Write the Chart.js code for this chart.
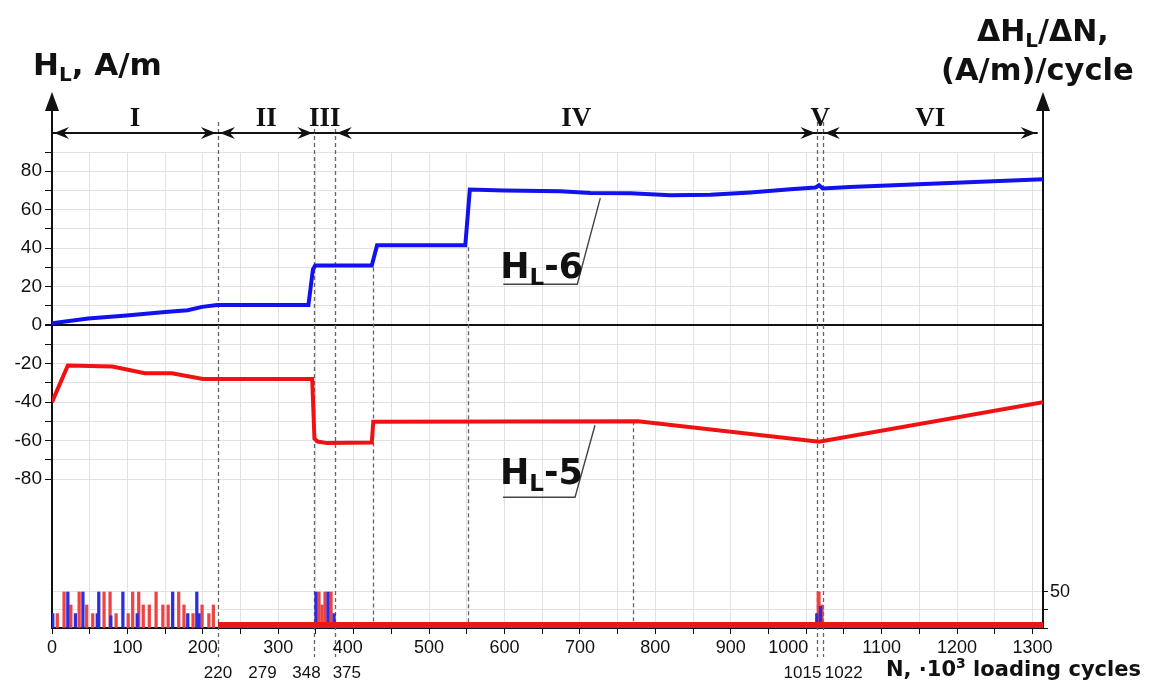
<!DOCTYPE html>
<html>
<head>
<meta charset="utf-8">
<script src="https://cdn.jsdelivr.net/npm/chart.js@4"></script>
<style>
  html, body { margin: 0; padding: 0; background: #fff; }
  #wrap { width: 1153px; height: 682px; }
</style>
</head>
<body>
<div id="wrap"><canvas id="hlChart" width="1153" height="682"></canvas></div>
<script>
// H_L-6 (upper sensor), A/m vs N (10^3 cycles)
const blueN = [0, 48, 99, 150, 180, 199, 219, 340, 346, 349, 424, 431, 548, 554, 600, 674, 714, 767, 820, 873, 926, 979, 1012, 1017, 1022, 1058, 1314];
const blueH = [1, 3.5, 5, 6.8, 7.8, 9.5, 10.5, 10.5, 29, 31, 31, 41.5, 41.5, 70.5, 70, 69.6, 68.7, 68.5, 67.5, 67.8, 69, 70.6, 71.5, 72.7, 71, 71.8, 75.8];

// H_L-5 (lower sensor)
const redN = [0, 21, 80, 123, 159, 200, 345, 348, 352, 365, 424, 426, 777, 1017, 1314];
const redH = [-40, -21, -21.5, -25, -25, -28, -28, -59, -60.5, -61.3, -61, -50.2, -50, -60.6, -40];

// dH/dN rate bars, (A/m)/cycle
const redBarN = [7, 16, 25, 36, 46, 54, 69, 77, 85, 101, 107, 115, 121, 129, 138, 147, 154, 168, 175, 187, 199, 208, 214, 354, 358, 362, 370, 1016, 1017, 1021];
const redBarV = [20, 50, 32, 50, 32, 20, 50, 50, 20, 20, 50, 50, 32, 32, 50, 32, 32, 50, 32, 20, 32, 20, 32, 50, 32, 50, 50, 50, 50, 32];
const blueBarN = [1, 21, 31, 41, 60, 62, 78, 94, 113, 160, 180, 192, 195, 350, 366, 374, 1014, 1019];
const blueBarV = [20, 50, 20, 50, 20, 50, 17, 50, 20, 50, 20, 50, 20, 50, 50, 20, 20, 30];
// low steady rate after stage I
const baseRateN = [220, 1314];
const baseRateV = [4, 4];

// stages and marked cycle counts
const stageNames = ['I', 'II', 'III', 'IV', 'V', 'VI'];
const stageBounds = [0, 220, 348, 375, 1015, 1022, 1307];
const boundaryN = [220, 348, 375, 1015, 1022];
const boundaryLabels = [220, 279, 348, 375, 1015, 1022];
const stepN = [426, 552, 771];
const stepFrom = [30, 40.5, -50];

const xTicks = [0, 50, 100, 150, 200, 250, 300, 350, 400, 450, 500, 550, 600, 650, 700, 750, 800, 850, 900, 950, 1000, 1050, 1100, 1150, 1200, 1250, 1300];
const xLabels = [0, 100, 200, 300, 400, 500, 600, 700, 800, 900, 1000, 1100, 1200, 1300];
const yTicks = [-80, -70, -60, -50, -40, -30, -20, -10, 0, 10, 20, 30, 40, 50, 60, 70, 80, 90];
const rateTicks = [0, 25, 50];

const pts = (xs, ys) => xs.map((n, i) => ({ x: n, y: ys[i] }));

function richText(ctx, parts, x, y, size) {
  let cx = x;
  ctx.textAlign = 'left';
  ctx.textBaseline = 'alphabetic';
  parts.forEach(([t, mode]) => {
    const s = mode ? Math.round(size * 0.66) : size;
    ctx.font = `bold ${s}px "DejaVu Sans"`;
    const dy = mode === 'sub' ? size * 0.2 : mode === 'sup' ? -size * 0.4 : 0;
    ctx.fillText(t, cx, y + dy);
    cx += ctx.measureText(t).width;
  });
}

function arrowHead(ctx, tipX, yy, dir) {
  ctx.beginPath();
  ctx.moveTo(tipX, yy);
  ctx.lineTo(tipX - dir * 15, yy - 6);
  ctx.lineTo(tipX - dir * 10, yy);
  ctx.lineTo(tipX - dir * 15, yy + 6);
  ctx.closePath();
  ctx.fill();
}

const markers = {
  id: 'markers',
  beforeDatasetsDraw(chart) {
    const { ctx, chartArea: a, scales: { x, y } } = chart;
    ctx.save();
    ctx.strokeStyle = '#666';
    ctx.lineWidth = 1.3;
    ctx.setLineDash([4, 3]);
    boundaryN.forEach(n => {
      const px = Math.round(x.getPixelForValue(n)) + 0.5;
      ctx.beginPath(); ctx.moveTo(px, 122); ctx.lineTo(px, 657); ctx.stroke();
    });
    stepN.forEach((n, i) => {
      const px = Math.round(x.getPixelForValue(n)) + 0.5;
      ctx.beginPath(); ctx.moveTo(px, y.getPixelForValue(stepFrom[i])); ctx.lineTo(px, a.bottom); ctx.stroke();
    });
    ctx.restore();
  },
  afterDraw(chart) {
    const { ctx, chartArea: a, scales: { x, y } } = chart;
    ctx.save();
    ctx.strokeStyle = '#111';
    ctx.fillStyle = '#111';

    // axis lines continued upward with arrowheads
    ctx.lineWidth = 2;
    [a.left, a.right].forEach(px => {
      ctx.beginPath(); ctx.moveTo(px, a.top); ctx.lineTo(px, 106); ctx.stroke();
      ctx.beginPath(); ctx.moveTo(px, 92); ctx.lineTo(px - 7, 111); ctx.lineTo(px + 7, 111); ctx.closePath(); ctx.fill();
    });

    // stage arrows
    const ay = 133;
    for (let i = 0; i < stageNames.length; i++) {
      const x0 = x.getPixelForValue(stageBounds[i]);
      const x1 = x.getPixelForValue(stageBounds[i + 1]);
      const wide = x1 - x0 > 40;
      ctx.lineWidth = 2;
      ctx.beginPath(); ctx.moveTo(x0, ay); ctx.lineTo(x1, ay); ctx.stroke();
      if (wide) { arrowHead(ctx, x0 + 2, ay, -1); arrowHead(ctx, x1 - 2, ay, 1); }
      ctx.font = 'bold 27px "Liberation Serif"';
      ctx.textAlign = 'center';
      ctx.textBaseline = 'alphabetic';
      ctx.fillText(stageNames[i], (x0 + x1) / 2, 126);
    }

    // cycle axis labels; 1000 moved left to clear the stage V lines
    ctx.font = '18px "Liberation Sans"';
    ctx.textAlign = 'center';
    xLabels.forEach(v => {
      const nudge = v === 1000 ? -18 : v === 400 ? -6 : 0;
      ctx.fillText(String(v), x.getPixelForValue(v) + nudge, 653);
    });

    // marked cycle counts under the axis
    ctx.font = '17px "Liberation Sans"';
    const shift = [0, 0, -8, 12, -15, 21];
    boundaryLabels.forEach((n, i) => {
      ctx.fillText(String(n), x.getPixelForValue(n) + shift[i], 678);
    });

    // axis titles
    richText(ctx, [['H', ''], ['L', 'sub'], [', A/m', '']], 33, 75, 31);
    richText(ctx, [['\u0394H', ''], ['L', 'sub'], ['/\u0394N,', '']], 977, 41, 30);
    richText(ctx, [['(A/m)/cycle', '']], 941, 80, 30.5);
    richText(ctx, [['N, \u00b710', ''], ['3', 'sup'], [' loading cycles', '']], 886, 676, 21);

    // curve tags with leader lines
    ctx.lineWidth = 1.4;
    ctx.strokeStyle = '#444';
    const tag = (n, v, name, dx, dy, len, tdy) => {
      const tx = x.getPixelForValue(n), ty = y.getPixelForValue(v);
      const ex = tx + dx, ey = ty + dy;
      ctx.beginPath(); ctx.moveTo(tx, ty); ctx.lineTo(ex, ey); ctx.lineTo(ex - len, ey); ctx.stroke();
      richText(ctx, [['H', ''], ['L', 'sub'], ['-' + name, '']], ex - len - 3, ey + tdy, 35);
    };
    tag(727, 66, '6', -23, 86, 74, -6);
    tag(720, -52, '5', -20, 72, 72, -13);
    ctx.restore();
  }
};

new Chart(document.getElementById('hlChart'), {
  type: 'bar',
  data: {
    datasets: [
      { type: 'line', label: 'H_L-6', data: pts(blueN, blueH), yAxisID: 'y', borderColor: '#1212ee', borderWidth: 4, pointRadius: 0, tension: 0, order: 0 },
      { type: 'line', label: 'H_L-5', data: pts(redN, redH), yAxisID: 'y', borderColor: '#f01212', borderWidth: 4, pointRadius: 0, tension: 0, order: 0 },
      { type: 'line', label: 'base rate', data: pts(baseRateN, baseRateV), yAxisID: 'y2', borderColor: '#e81818', borderWidth: 6, pointRadius: 0, order: 1 },
      { label: 'dH/dN (5)', data: pts(redBarN, redBarV), yAxisID: 'y2', backgroundColor: '#ec4444', barThickness: 2.6, grouped: false, order: 2 },
      { label: 'dH/dN (6)', data: pts(blueBarN, blueBarV), yAxisID: 'y2', backgroundColor: '#2d2de0', barThickness: 2.6, grouped: false, order: 1 }
    ]
  },
  options: {
    responsive: false,
    animation: false,
    devicePixelRatio: 1,
    layout: { padding: { top: 152, left: 0, right: 0, bottom: 0 } },
    plugins: { legend: { display: false }, tooltip: { enabled: false } },
    scales: {
      x: {
        type: 'linear',
        min: 0,
        max: 1314,
        offset: false,
        afterBuildTicks: s => { s.ticks = xTicks.map(v => ({ value: v })); },
        afterFit: s => { s.height = 54; },
        grid: { offset: false, color: '#e2e2e2', lineWidth: 1, tickColor: '#111', tickLength: 6 },
        border: { color: '#111', width: 2 },
        ticks: { display: false }
      },
      y: {
        position: 'left',
        min: -157.4,
        max: 90,
        afterBuildTicks: s => { s.ticks = yTicks.map(v => ({ value: v })); },
        afterFit: s => { s.width = 52; },
        grid: {
          color: c => (c.tick && c.tick.value === 0 ? '#111' : '#e2e2e2'),
          lineWidth: c => (c.tick && c.tick.value === 0 ? 2 : 1),
          tickColor: '#111',
          tickLength: 7
        },
        border: { color: '#111', width: 2 },
        ticks: {
          padding: 3,
          color: '#111',
          font: { family: '"Liberation Sans"', size: 19 },
          callback: v => (v % 20 === 0 && v <= 80 ? v : '')
        }
      },
      y2: {
        position: 'right',
        min: 0,
        max: 661,
        afterBuildTicks: s => { s.ticks = rateTicks.map(v => ({ value: v })); },
        afterFit: s => { s.width = 110; },
        grid: {
          color: c => (c.tick && c.tick.value === 0 ? 'rgba(0,0,0,0)' : '#e2e2e2'),
          tickColor: '#111',
          tickLength: 5
        },
        border: { color: '#111', width: 2 },
        ticks: {
          padding: 2,
          color: '#111',
          font: { family: '"Liberation Sans"', size: 18 },
          callback: v => (v === 50 ? v : '')
        }
      }
    }
  },
  plugins: [markers]
});
</script>
</body>
</html>
